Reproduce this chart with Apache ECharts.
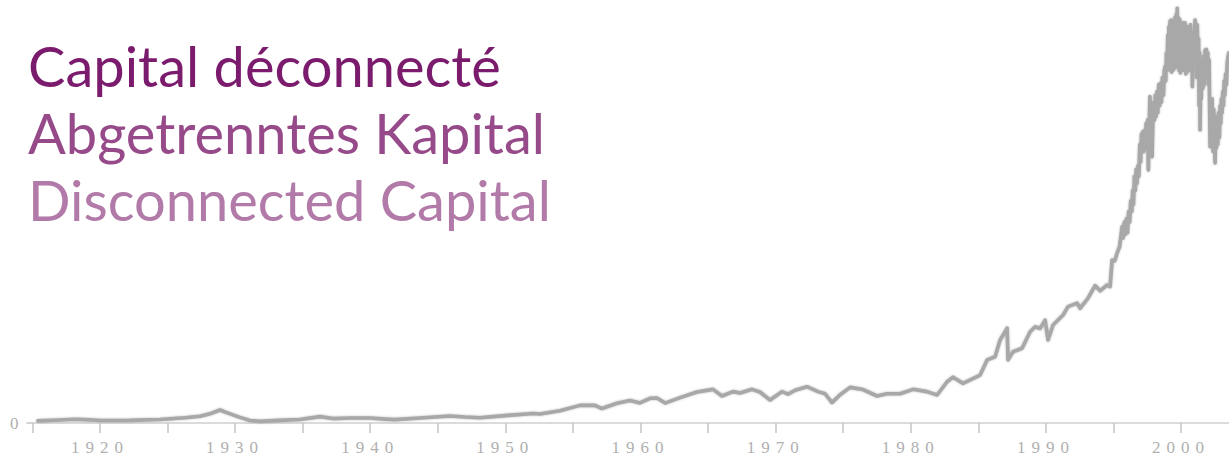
<!DOCTYPE html>
<html><head><meta charset="utf-8">
<script src="https://cdn.jsdelivr.net/npm/echarts@6/dist/echarts.min.js"></script>
<style>
html,body{margin:0;padding:0;background:#fff}
#c{width:1229px;height:463px}
#c text[style*="Liberation Serif"]{letter-spacing:6px}
</style>
</head><body><div id="c"></div>
<script>
const years = [
1915.41,1917.04,1918.15,1919.26,1920.00,1922.20,1924.44,1926.29,1927.40,1928.14,
1928.88,1929.33,1929.84,1930.36,1931.10,1931.84,1933.32,1934.80,1936.28,1937.24,
1938.50,1939.98,1941.09,1941.83,1943.68,1945.90,1947.01,1948.12,1949.97,1952.05,
1952.56,1954.04,1955.52,1956.63,1957.15,1958.26,1959.22,1959.96,1960.70,1961.22,
1961.82,1962.93,1964.18,1965.14,1965.37,1966.03,1966.85,1967.37,1968.25,1968.84,
1969.59,1970.47,1970.92,1971.44,1972.32,1973.14,1973.66,1974.17,1974.77,1975.51,
1976.47,1977.50,1978.24,1979.21,1980.17,1981.20,1981.95,1982.69,1983.13,1983.87,
1985.13,1985.65,1986.24,1986.61,1986.98,1987.13,1987.20,1987.57,1988.24,1988.83,
1989.20,1989.57,1989.94,1990.16,1990.53,1991.27,1991.64,1992.31,1992.53,1993.12,
1993.64,1994.01,1994.53,1994.75,1994.90,1995.10,1995.27,1995.45,
1995.64,1995.72,1995.80,1995.88,1995.96,1996.04,1996.12,1996.20,1996.28,1996.36,
1996.42,1996.48,1996.55,1996.62,1996.68,1996.74,1996.82,1996.88,1996.95,1997.01,
1997.07,1997.12,1997.18,1997.24,1997.30,1997.36,1997.42,1997.48,1997.53,1997.58,
1997.64,1997.70,1997.76,1997.82,1997.86,1997.92,1997.98,1998.04,1998.10,1998.16,
1998.22,1998.28,1998.35,1998.42,1998.48,1998.55,1998.62,1998.70,1998.76,1998.82,
1998.87,1998.92,1998.97,1999.02,1999.06,1999.10,1999.14,1999.19,1999.23,1999.27,
1999.31,1999.36,1999.40,1999.45,1999.50,1999.55,1999.60,1999.65,1999.69,1999.72,
1999.76,1999.80,1999.85,1999.90,1999.95,2000.00,2000.05,2000.10,2000.15,2000.20,
2000.25,2000.30,2000.35,2000.40,2000.45,2000.50,2000.55,2000.60,2000.65,2000.70,
2000.75,2000.80,2000.84,2000.89,2000.94,2000.99,2001.04,2001.08,2001.12,2001.16,
2001.20,2001.25,2001.30,2001.34,2001.38,2001.41,2001.46,2001.50,2001.56,2001.63,
2001.68,2001.72,2001.78,2001.83,2001.88,2001.93,2001.98,2002.03,2002.08,2002.12,
2002.15,2002.20,2002.24,2002.30,2002.34,2002.37,2002.42,2002.47,2002.52,2002.57,
2002.62,2002.68,2002.72,2002.78,2002.84,2002.89,2002.94,2002.99,2003.04,2003.09,
2003.14,2003.19,2003.24,2003.30,2003.36,2003.42,2003.48,2003.55];
const values = [
60,85,105,90,70,75,100,150,190,260,
370,300,230,160,70,45,75,100,180,125,
140,140,110,95,140,200,170,150,210,270,
255,350,500,500,410,560,640,570,700,710,
565,720,880,940,955,766,890,850,955,880,
650,890,820,930,1030,890,830,577,800,1010,
950,766,830,830,955,890,795,1170,1300,1125,
1360,1790,1880,2355,2590,2690,1790,2020,2120,2590,
2730,2680,2920,2355,2780,3065,3300,3400,3250,3540,
3900,3750,3915,3870,4620,4600,4820,5000,
5570,5250,5700,5350,5800,5400,6000,5700,6300,6000,
6600,6200,7000,6600,7200,6800,7300,7000,7900,7400,
8200,7700,8265,7700,8300,7800,8500,7900,8600,7180,
8300,9260,8400,9000,7555,8700,9100,8600,9300,8700,
9400,8800,9600,9000,9640,9100,9800,9300,10000,10110,
9700,10500,10000,11000,10300,11240,10100,11400,10000,11430,
9950,11300,10000,11400,10050,11500,10100,11600,10200,11765,
10300,11500,10000,11450,9930,11350,10000,11300,10100,11350,
10000,11350,9900,11250,9950,11200,10000,11250,10100,11300,
10000,11100,9540,10500,10200,11000,11430,10200,11200,9800,
11300,10000,10900,9000,10500,8310,9800,9200,10300,9500,
10400,9600,10580,9800,10600,9900,10500,9600,10300,8800,
7840,9000,8400,9200,8200,7700,8900,8000,7375,8400,
7800,8700,7900,8800,8100,9000,8500,9200,8800,9400,
9000,9700,9300,9900,9600,10200,10390,10500];
const xTickValues = [1915,1920,1925,1930,1935,1940,1945,1950,1955,1960,1965,1970,1975,1980,1985,1990,1995,2000];
const xTickLabels = [1920,1930,1940,1950,1960,1970,1980,1990,2000];
const yTickLabels = [0];
const titleLines = ['Capital déconnecté','Abgetrenntes Kapital','Disconnected Capital'];
const titleColors = ['#7b1b6d','#974a8a','#b27aa8'];

const chart = echarts.init(document.getElementById('c'), null, {renderer:'svg'});
const tickFont = 'Liberation Serif';
chart.setOption({
  animation:false,
  backgroundColor:'#fff',
  grid:{left:32.4,right:0,top:0,bottom:40,containLabel:false},
  xAxis:{type:'value',min:1915,max:2003.55,
    axisLine:{show:true,lineStyle:{color:'#cfcfcf',width:1.5}},
    axisTick:{show:true,length:10,customValues:xTickValues,lineStyle:{color:'#c4c4c4',width:1.5}},
    axisLabel:{margin:16,color:'#b0b0b0',fontFamily:tickFont,fontSize:17,customValues:xTickLabels,
      formatter:v=>String(v)},
    splitLine:{show:false}},
  yAxis:{type:'value',min:0,max:12000,
    axisLine:{show:false},
    axisTick:{show:true,length:6,customValues:yTickLabels,lineStyle:{color:'#c4c4c4',width:1.5}},
    axisLabel:{margin:8,color:'#b0b0b0',fontFamily:tickFont,fontSize:17,customValues:yTickLabels,
      formatter:v=>String(v)},
    splitLine:{show:false}},
  series:[{type:'line',data:years.map((y,i)=>[y,values[i]]),showSymbol:false,
    lineStyle:{color:'#a8a8a8',width:3.6,join:'round',cap:'round',shadowBlur:2,shadowColor:'rgba(168,168,168,0.8)'},silent:true}],
  graphic:titleLines.map((t,i)=>({type:'text',left:28,top:37+i*67,
    style:{text:t,fill:titleColors[i],font:'56px Lato'}}))
});
</script>
</body></html>
